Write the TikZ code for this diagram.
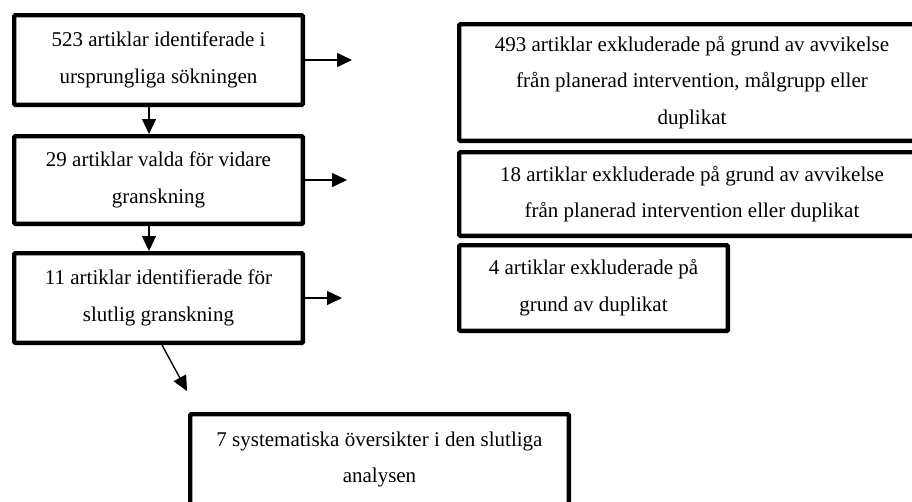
\documentclass[tikz,border=0pt]{standalone}
\usepackage{fontspec}
\setmainfont{Liberation Serif}
\usetikzlibrary{arrows.meta}
\tikzset{
    stage/.style={draw=black, line width=4.3pt, rounded corners=1pt, inner sep=0pt,
             align=center, font=\fontsize{21}{36.7}\selectfont},
    flow/.style={draw=black, line width=1.3pt,
             -{Triangle[length=15pt,width=14pt]}}
  }
\begin{document}
\begin{tikzpicture}[x=1pt, y=-1pt]
  \useasboundingbox (0,0) rectangle (912,501);
  \clip (0,0) rectangle (912,501);
  %Left column
      \node[stage, minimum width=288.7pt, minimum height=89.7pt] (found) at (158.5,60)
          {523 artiklar identiferade i\\ursprungliga sökningen};
      \node[stage, minimum width=288.7pt, minimum height=87.7pt] (chosen) at (158.5,180)
          {29 artiklar valda för vidare\\granskning};
      \node[stage, minimum width=288.7pt, minimum height=89.7pt] (final) at (158.5,298)
          {11 artiklar identifierade för\\slutlig granskning};
  %Excluded
      \node[stage, minimum width=465.7pt, minimum height=116.7pt] (exclA) at (692,82.5)
          {493 artiklar exkluderade på grund av avvikelse\\från planerad intervention, målgrupp eller\\duplikat};
      \node[stage, minimum width=465.7pt, minimum height=83.7pt] (exclB) at (692,194)
          {18 artiklar exkluderade på grund av avvikelse\\från planerad intervention eller duplikat};
      \node[stage, minimum width=268.7pt, minimum height=85.7pt] (exclC) at (593.5,288)
          {4 artiklar exkluderade på\\grund av duplikat};
  %Result
      \node[stage, minimum width=378.7pt, minimum height=90.7pt] (result) at (379.5,459.5)
          {7 systematiska översikter i den slutliga\\analysen};
  %Free arrow ends
      \coordinate (foundx) at (352,60);
      \coordinate (chosenx) at (347,180);
      \coordinate (finalx) at (342,298);
      \coordinate (toresult) at (187,391);
  %Arrows
      \draw[flow] ([xshift=-9.5pt]found.south) -- ([xshift=-9.5pt]chosen.north);
      \draw[flow] ([xshift=-9.5pt]chosen.south) -- ([xshift=-9.5pt]final.north);
      \draw[flow] (found.east) -- (foundx);
      \draw[flow] (chosen.east) -- (chosenx);
      \draw[flow] (final.east) -- (finalx);
      \draw[flow] ([xshift=3.5pt]final.south) -- (toresult);
\end{tikzpicture}
\end{document}
